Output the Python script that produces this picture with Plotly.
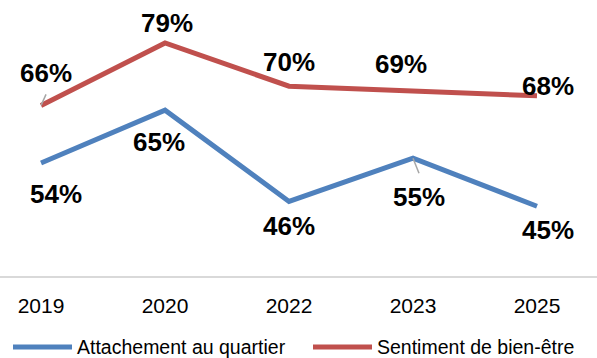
import plotly.graph_objects as go

years = ["2019", "2020", "2022", "2023", "2025"]
attachement = [54, 65, 46, 55, 45]
bien_etre = [66, 79, 70, 69, 68]

series_names = ["Attachement au quartier", "Sentiment de bien-être"]
colors = ["#4F81BD", "#C0504D"]

# label offsets (px) from each point: (dx right, dy up)
att_offsets = [(15, -31), (-6, -32), (0, -25), (6, -39), (11, -24)]
bien_offsets = [(5, 32), (2, 20), (0, 24), (-12, 27), (11, 10)]

W, H = 597, 358
M_B = 82
PLOT_H = H - M_B

fig = go.Figure()
xs = list(range(len(years)))
for name, vals, col in zip(series_names, [attachement, bien_etre], colors):
    fig.add_trace(go.Scatter(
        x=xs, y=vals, mode="lines", name=name,
        line=dict(color=col, width=5),
        showlegend=False, hoverinfo="skip",
    ))

annotations = []
label_font = dict(family="Liberation Sans, Arial, sans-serif", size=26, color="#000000")
for vals, offs in [(attachement, att_offsets), (bien_etre, bien_offsets)]:
    for i, (v, (dx, dy)) in enumerate(zip(vals, offs)):
        annotations.append(dict(
            x=i, y=v, xref="x", yref="y", text=f"<b>{v}%</b>",
            showarrow=False, xanchor="center", yanchor="middle",
            xshift=dx, yshift=dy, font=label_font,
        ))

shapes = []
# leader lines from a few labels back to their points
for idx, vals, (lx, ly) in [(0, bien_etre, (5, 11)), (3, attachement, (6, -15))]:
    shapes.append(dict(
        type="line", xref="x", yref="y", xsizemode="pixel", ysizemode="pixel",
        xanchor=idx, yanchor=vals[idx], x0=0, y0=0, x1=lx, y1=ly,
        line=dict(color="#A6A6A6", width=1.5),
    ))

# legend drawn below the axis
leg_y_px = 347
leg_y = (PLOT_H - leg_y_px) / PLOT_H
for (x0, x1, tx), name, col in zip([(13, 72, 75), (313, 372, 375)], series_names, colors):
    shapes.append(dict(
        type="line", xref="paper", yref="paper",
        x0=x0 / W, x1=x1 / W, y0=leg_y, y1=leg_y,
        line=dict(color=col, width=5),
    ))
    annotations.append(dict(
        x=tx / W, y=leg_y, xref="paper", yref="paper", text=name,
        showarrow=False, xanchor="left", yanchor="middle",
        font=dict(family="Liberation Sans, Arial, sans-serif", size=19.5, color="#000000"),
    ))

fig.update_layout(
    width=W, height=H,
    margin=dict(l=0, r=0, t=0, b=M_B, autoexpand=False),
    paper_bgcolor="white", plot_bgcolor="white",
    xaxis=dict(
        range=[-0.331, 4.484], tickmode="array", tickvals=xs, ticktext=years,
        showgrid=False, zeroline=False, showline=True, linecolor="#D9D9D9", linewidth=2,
        ticks="outside", ticklen=10, tickcolor="rgba(0,0,0,0)",
        tickfont=dict(family="Liberation Sans, Arial, sans-serif", size=21, color="#000000"),
    ),
    yaxis=dict(range=[30.46, 87.96], visible=False, showgrid=False, zeroline=False),
    annotations=annotations, shapes=shapes,
)

fig.write_html("out.html")
